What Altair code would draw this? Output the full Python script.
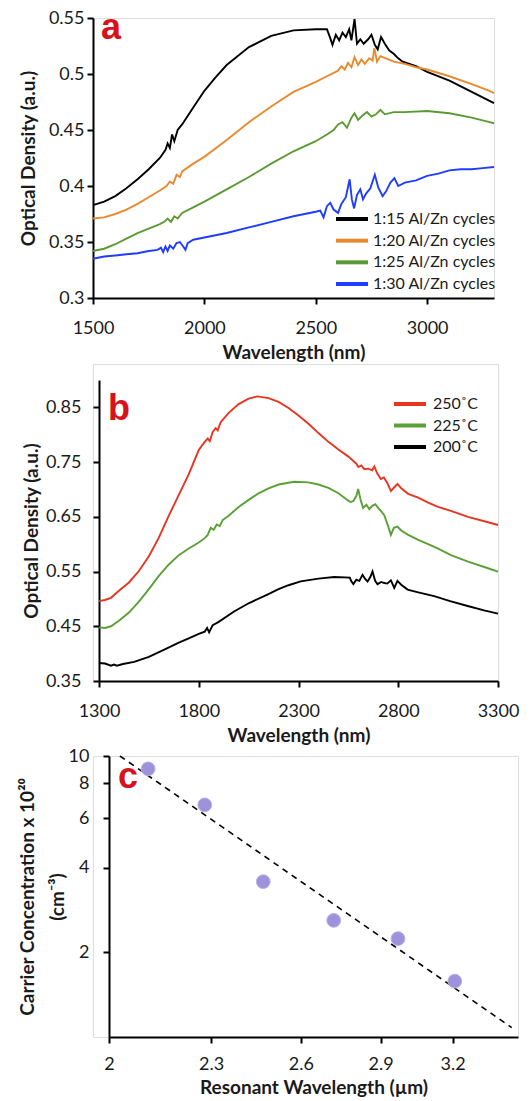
import altair as alt
import pandas as pd

FONT = "Lato"
TXT = "#1a1a1a"

# ---------------- Panel a data ----------------
a_series = ["1:15 Al/Zn cycles", "1:20 Al/Zn cycles", "1:25 Al/Zn cycles", "1:30 Al/Zn cycles"]
a_colors = ["#000000", "#e98a2d", "#5a9a32", "#1f3cff"]

a15_wl = [1500, 1550, 1600, 1650, 1700, 1750, 1800, 1825, 1835, 1845, 1855, 1865, 1880, 1900, 1950, 2000,
          2050, 2100, 2200, 2300, 2400, 2500, 2550, 2565, 2575, 2590, 2605, 2620, 2635, 2650, 2660, 2674,
          2685, 2700, 2715, 2735, 2750, 2765, 2778, 2793, 2810, 2830, 2850, 2870, 2890, 2950, 3000, 3100,
          3200, 3280, 3300]
a15_od = [.383, .386, .391, .398, .406, .415, .425, .432, .438, .434, .446, .440, .450, .455, .470, .485,
          .497, .508, .524, .534, .539, .540, .540, .532, .526, .535, .530, .537, .533, .540, .530, .549,
          .527, .531, .527, .531, .535, .526, .522, .533, .527, .521, .518, .514, .511, .507, .502, .494,
          .484, .476, .474]

a20_wl = [1500, 1550, 1600, 1650, 1700, 1750, 1800, 1830, 1845, 1860, 1875, 1890, 1900, 1950, 2000, 2100,
          2200, 2300, 2400, 2500, 2550, 2600, 2615, 2630, 2645, 2660, 2674, 2690, 2705, 2720, 2740, 2755,
          2763, 2775, 2790, 2815, 2850, 2900, 2950, 3000, 3100, 3200, 3280, 3300]
a20_od = [.371, .372, .375, .379, .384, .390, .396, .400, .404, .402, .410, .408, .413, .420, .426, .441,
          .457, .471, .484, .493, .498, .503, .507, .504, .510, .506, .515, .508, .513, .509, .514, .512,
          .523, .511, .516, .514, .511, .509, .506, .504, .498, .491, .485, .483]

a25_wl = [1500, 1550, 1600, 1650, 1700, 1750, 1800, 1820, 1835, 1850, 1865, 1880, 1900, 1950, 2000, 2100,
          2200, 2300, 2400, 2500, 2550, 2580, 2600, 2620, 2640, 2660, 2674, 2690, 2710, 2730, 2750, 2770,
          2790, 2810, 2850, 2900, 3000, 3100, 3200, 3280, 3300]
a25_od = [.342, .344, .348, .353, .358, .362, .366, .368, .371, .368, .373, .371, .376, .381, .386, .397,
          .408, .420, .431, .440, .446, .450, .455, .457, .452, .461, .465, .459, .463, .466, .462, .464,
          .468, .464, .466, .466, .467, .465, .461, .457, .456]

a30_wl = [1500, 1550, 1600, 1650, 1700, 1750, 1790, 1805, 1815, 1825, 1835, 1845, 1860, 1875, 1890, 1905,
          1915, 1925, 1950, 2000, 2100, 2200, 2300, 2400, 2500, 2520, 2535, 2550, 2565, 2580, 2600, 2615,
          2635, 2652, 2662, 2672, 2685, 2700, 2712, 2725, 2745, 2765, 2780, 2800, 2815, 2835, 2853, 2870,
          2900, 2950, 3000, 3050, 3100, 3150, 3200, 3250, 3300]
a30_od = [.335, .337, .338, .339, .340, .342, .343, .345, .341, .346, .342, .347, .344, .349, .350, .346,
          .343, .349, .352, .354, .358, .363, .368, .373, .377, .378, .372, .382, .385, .379, .376, .384,
          .390, .406, .388, .380, .392, .397, .388, .393, .398, .410, .399, .391, .395, .403, .407, .400,
          .403, .405, .409, .411, .414, .415, .415, .416, .417]

# ---------------- Panel b data ----------------
b_series = ["250˚C", "225˚C", "200˚C"]
b_colors = ["#e8351f", "#5aa034", "#000000"]

b250_wl = [1300, 1330, 1360, 1400, 1450, 1500, 1550, 1600, 1650, 1700, 1750, 1800, 1830, 1845, 1855, 1870,
           1885, 1895, 1910, 1950, 2000, 2050, 2094, 2150, 2200, 2250, 2300, 2350, 2400, 2450, 2500, 2550,
           2575, 2590, 2600, 2615, 2630, 2650, 2670, 2680, 2695, 2713, 2728, 2745, 2763, 2780, 2796, 2815,
           2850, 2900, 2950, 3000, 3064, 3150, 3250, 3300]
b250_od = [.496, .498, .502, .515, .530, .551, .578, .612, .652, .690, .728, .772, .787, .793, .788, .805,
           .812, .808, .823, .840, .856, .866, .870, .867, .860, .849, .835, .820, .803, .787, .773, .760,
           .752, .747, .741, .744, .737, .738, .735, .742, .729, .719, .722, .712, .697, .704, .710, .702,
           .692, .685, .676, .668, .661, .650, .640, .635]

b225_wl = [1300, 1330, 1360, 1400, 1450, 1500, 1550, 1600, 1650, 1700, 1750, 1800, 1830, 1845, 1860, 1875,
           1890, 1905, 1920, 1950, 2000, 2050, 2100, 2150, 2200, 2278, 2350, 2400, 2450, 2500, 2540, 2560,
           2575, 2590, 2599, 2612, 2624, 2640, 2655, 2670, 2685, 2700, 2715, 2730, 2750, 2763, 2778, 2796,
           2815, 2850, 2900, 2950, 3000, 3064, 3150, 3250, 3300]
b225_od = [.448, .447, .450, .460, .475, .495, .518, .542, .563, .580, .592, .603, .611, .617, .630, .626,
           .636, .633, .644, .652, .668, .681, .693, .702, .709, .714, .713, .709, .703, .693, .682, .677,
           .679, .688, .701, .680, .666, .672, .664, .670, .673, .666, .660, .653, .632, .617, .630, .632,
           .625, .617, .608, .600, .592, .580, .568, .556, .550]

b200_wl = [1300, 1330, 1360, 1375, 1390, 1420, 1476, 1550, 1643, 1700, 1750, 1800, 1830, 1842, 1852, 1870,
           1900, 1977, 2050, 2144, 2200, 2250, 2311, 2400, 2479, 2557, 2565, 2575, 2590, 2605, 2621, 2635,
           2646, 2660, 2671, 2684, 2696, 2715, 2730, 2745, 2763, 2780, 2796, 2815, 2847, 2900, 2980, 3060,
           3148, 3230, 3300]
b200_od = [.383, .382, .378, .380, .378, .381, .385, .394, .410, .420, .428, .436, .440, .447, .439, .452,
           .458, .477, .492, .508, .518, .525, .532, .537, .540, .539, .532, .527, .535, .533, .544, .536,
           .532, .540, .550, .533, .527, .531, .529, .528, .534, .520, .533, .526, .517, .512, .505, .496,
           .487, .479, .473]

# ---------------- Panel c data ----------------
c_wavelength = [2.11, 2.28, 2.47, 2.72, 2.97, 3.21]
c_carrier = [9.0, 6.7, 3.57, 2.6, 2.24, 1.58]
c_fit_wavelength = [2.03, 3.47]
c_fit_carrier = [10.0, 1.08]


def frame(series_names, wls, ods):
    rows = []
    for name, w, o in zip(series_names, wls, ods):
        for i, (x, y) in enumerate(zip(w, o)):
            rows.append({"series": name, "wl": x, "od": y, "i": i})
    return pd.DataFrame(rows)


def ax(**kw):
    base = dict(
        grid=False, domainColor="#000", domainWidth=2, tickColor="#000", tickWidth=2, tickSize=6,
        labelFont=FONT, labelFontSize=18, labelColor=TXT, titleFont=FONT, titleFontSize=19,
        titleFontWeight="bold", titleColor=TXT, labelFlush=False, labelOverlap=False,
    )
    base.update(kw)
    return alt.Axis(**base)


def letter(txt, x, y):
    return alt.Chart(pd.DataFrame({"t": [txt]})).mark_text(
        font="Liberation Sans", fontSize=36, fontWeight="bold", color="#d8121c",
        align="center", baseline="alphabetic"
    ).encode(text="t:N", x=alt.value(x), y=alt.value(y))


def key(names, color_scale, sym_x, sym_x2, label_x, row_range):
    """Legend drawn in-plot: a thick stroke and a label per series."""
    df = pd.DataFrame({"series": names, "row": list(range(len(names)))})
    ysc = alt.Y("row:Q", axis=None, scale=alt.Scale(domain=[0, len(names) - 1], range=row_range))
    sym = alt.Chart(df).mark_rule(strokeWidth=4).encode(
        x=alt.value(sym_x), x2=alt.value(sym_x2), y=ysc,
        color=alt.Color("series:N", scale=color_scale, legend=None))
    lab = alt.Chart(df).mark_text(font=FONT, fontSize=16, color=TXT, align="left",
                                  baseline="middle").encode(x=alt.value(label_x), y=ysc, text="series:N")
    return [sym, lab]


LBL2 = "format(datum.value, '.2~f')"

# Panel a
scale_a = alt.Scale(domain=a_series, range=a_colors)
df_a = frame(a_series, [a15_wl, a20_wl, a25_wl, a30_wl], [a15_od, a20_od, a25_od, a30_od])
lines_a = alt.Chart(df_a).mark_line(strokeWidth=1.9).encode(
    x=alt.X("wl:Q", scale=alt.Scale(domain=[1500, 3300], nice=False, zero=False),
            axis=ax(values=[1500, 2000, 2500, 3000], format="d", title="Wavelength (nm)",
                    labelPadding=15, titlePadding=6)),
    y=alt.Y("od:Q", scale=alt.Scale(domain=[0.3, 0.55], nice=False, zero=False),
            axis=ax(values=[0.3, 0.35, 0.4, 0.45, 0.5, 0.55], labelExpr=LBL2,
                    title="Optical Density (a.u.)", labelPadding=3, titlePadding=10)),
    color=alt.Color("series:N", scale=scale_a, legend=None),
    order="i:Q",
)
panel_a = alt.layer(lines_a, *key(a_series, scale_a, 243, 275, 280, [201, 266]),
                    letter("a", 18, 21)).resolve_scale(y="independent").properties(width=401, height=280)

# Panel b  (axis shifted 6px right, plot top 16px lower inside its group)
scale_b = alt.Scale(domain=b_series, range=b_colors)
df_b = frame(b_series, [b250_wl, b225_wl, b200_wl], [b250_od, b225_od, b200_od])
lines_b = alt.Chart(df_b).mark_line(strokeWidth=1.9).encode(
    x=alt.X("wl:Q", scale=alt.Scale(domain=[1300, 3300], nice=False, zero=False, range=[6, 405]),
            axis=ax(values=[1300, 1800, 2300, 2800, 3300], format="d", title="Wavelength (nm)",
                    labelPadding=15, titlePadding=6)),
    y=alt.Y("od:Q", scale=alt.Scale(domain=[0.35, 0.9], nice=False, zero=False, range=[317, 16]),
            axis=ax(values=[0.35, 0.45, 0.55, 0.65, 0.75, 0.85], labelExpr=LBL2, offset=-6,
                    title="Optical Density (a.u.)", labelPadding=12, titlePadding=4)),
    color=alt.Color("series:N", scale=scale_b, legend=None),
    order="i:Q",
)
panel_b = alt.layer(lines_b, *key(b_series, scale_b, 301, 333, 340, [40, 83]),
                    letter("b", 26, 56)).resolve_scale(y="independent").properties(width=405, height=317)

# Panel c  (axis shifted 16px right)
df_c = pd.DataFrame({"x": c_wavelength, "y": c_carrier})
df_fit = pd.DataFrame({"x": c_fit_wavelength, "y": c_fit_carrier})
xc = alt.X("x:Q", scale=alt.Scale(type="log", domain=[2, 3.5], nice=False, range=[16, 425]),
           axis=ax(values=[2, 2.3, 2.6, 2.9, 3.2], format="~g", title="Resonant Wavelength (µm)",
                   labelPadding=12, titlePadding=5))
yc = alt.Y("y:Q", scale=alt.Scale(type="log", domain=[1, 10], nice=False),
           axis=ax(values=[2, 4, 6, 8, 10], format="d", offset=-16,
                   title=["Carrier Concentration x 10²⁰", "(cm⁻³)"], titleLineHeight=30,
                   labelPadding=14, titlePadding=1))
fit_c = alt.Chart(df_fit).mark_line(color="#000", strokeWidth=1.6, strokeDash=[6, 5]).encode(x=xc, y=yc)
pts_c = alt.Chart(df_c).mark_circle(size=190, color="#9e92da", opacity=1, stroke="#b9b0e8",
                                    strokeWidth=1).encode(x=xc, y=yc)
panel_c = alt.layer(fit_c, pts_c, letter("c", 35, 32)).properties(width=425, height=281)

chart = alt.vconcat(panel_a, panel_b, panel_c, spacing=0).resolve_scale(
    x="independent", y="independent", color="independent"
).properties(
    padding={"left": 9, "top": 0, "right": 2, "bottom": 0}
).configure_view(stroke=None).configure(background="white")

chart.save("out.html", embed_options={"renderer": "svg", "actions": False})
